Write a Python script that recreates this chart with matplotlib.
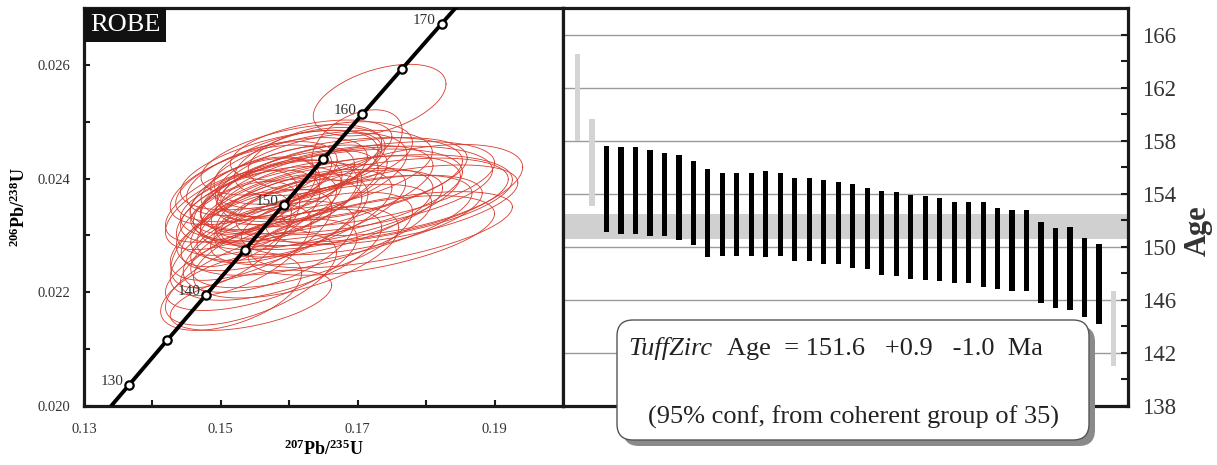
import numpy as np
import matplotlib
matplotlib.use('Agg')
import matplotlib.pyplot as plt
from matplotlib.patches import FancyBboxPatch, Rectangle
from matplotlib.transforms import IdentityTransform

plt.rcParams['font.family'] = ['Liberation Serif', 'DejaVu Serif']
plt.rcParams['mathtext.fontset'] = 'custom'
plt.rcParams['mathtext.rm'] = 'Liberation Serif'
plt.rcParams['mathtext.bf'] = 'Liberation Serif:bold'
plt.rcParams['mathtext.it'] = 'Liberation Serif:italic'

# ---- data ------------------------------------------------------------------

# concordia: decay constants (per Ma) and labelled age marks
L238 = 1.55125e-4
L235 = 9.8485e-4
CONC_AGES = [130, 135, 140, 145, 150, 155, 160, 165, 170]
CONC_LABELS = [130, 140, 150, 160, 170]

# error ellipses: 207Pb/235U, 206Pb/238U centres, half-widths, correlation
ELL_X = [0.1732, 0.1699, 0.1765, 0.1750, 0.1721, 0.1706, 0.1676, 0.1662,
         0.1632, 0.1618, 0.1544, 0.1515, 0.1559, 0.1588, 0.1588, 0.1603,
         0.1574, 0.1544, 0.1529, 0.1515, 0.1559, 0.1574, 0.1596, 0.1618,
         0.1632, 0.1647, 0.1662, 0.1676, 0.1691, 0.1647, 0.1603, 0.1574,
         0.1544, 0.1529, 0.1632, 0.1581, 0.1515, 0.1735, 0.1544,
         0.1600, 0.1620, 0.1580, 0.1560, 0.1640, 0.1660, 0.1700, 0.1540,
         0.1610, 0.1590, 0.1650, 0.1570, 0.1680, 0.1610, 0.1550, 0.1630,
         0.1720, 0.1595, 0.1525, 0.1660]
ELL_Y = [0.02538, 0.02459, 0.02380, 0.02354, 0.02362, 0.02336, 0.02327,
         0.02345, 0.02310, 0.02292, 0.02222, 0.02200, 0.02248, 0.02266,
         0.02415, 0.02433, 0.02398, 0.02389, 0.02362, 0.02345, 0.02354,
         0.02371, 0.02362, 0.02389, 0.02406, 0.02415, 0.02398, 0.02380,
         0.02362, 0.02371, 0.02336, 0.02318, 0.02301, 0.02274, 0.02450,
         0.02345, 0.02292, 0.02310, 0.02186,
         0.02380, 0.02350, 0.02360, 0.02400, 0.02380, 0.02360, 0.02390,
         0.02340, 0.02420, 0.02330, 0.02340, 0.02280, 0.02400, 0.02270,
         0.02370, 0.02430, 0.02300, 0.02395, 0.02320, 0.02440]
ELL_SX = [0.0097, 0.0066, 0.0176, 0.0184, 0.0199, 0.0176, 0.0191, 0.0162,
          0.0176, 0.0162, 0.0125, 0.0103, 0.0140, 0.0147, 0.0147, 0.0132,
          0.0140, 0.0118, 0.0110, 0.0096, 0.0118, 0.0103, 0.0110, 0.0125,
          0.0140, 0.0162, 0.0191, 0.0221, 0.0235, 0.0206, 0.0147, 0.0132,
          0.0118, 0.0103, 0.0118, 0.0088, 0.0088, 0.0191, 0.0118,
          0.0130, 0.0150, 0.0120, 0.0110, 0.0170, 0.0190, 0.0200, 0.0105,
          0.0120, 0.0125, 0.0160, 0.0125, 0.0180, 0.0150, 0.0095, 0.0110,
          0.0180, 0.0100, 0.0090, 0.0120]
ELL_SY = [0.00063, 0.00062, 0.00080, 0.00070, 0.00074, 0.00070, 0.00079,
          0.00070, 0.00080, 0.00084, 0.00080, 0.00067, 0.00080, 0.00080,
          0.00070, 0.00062, 0.00074, 0.00070, 0.00074, 0.00070, 0.00067,
          0.00062, 0.00067, 0.00070, 0.00074, 0.00070, 0.00074, 0.00077,
          0.00080, 0.00081, 0.00080, 0.00080, 0.00080, 0.00080, 0.00053,
          0.00062, 0.00084, 0.00067, 0.00053,
          0.00070, 0.00075, 0.00072, 0.00065, 0.00078, 0.00080, 0.00075,
          0.00075, 0.00065, 0.00078, 0.00078, 0.00080, 0.00072, 0.00080,
          0.00068, 0.00060, 0.00070, 0.00062, 0.00075, 0.00060]
ELL_RHO = [0.45, 0.40, 0.50, 0.55, 0.50, 0.55, 0.60, 0.55, 0.60, 0.60,
           0.60, 0.50, 0.60, 0.60, 0.55, 0.50, 0.55, 0.55, 0.60, 0.55,
           0.55, 0.55, 0.55, 0.55, 0.50, 0.45, 0.45, 0.45, 0.45, 0.50,
           0.60, 0.60, 0.60, 0.60, 0.45, 0.55, 0.60, 0.60, 0.50,
           0.55, 0.55, 0.50, 0.50, 0.55, 0.55, 0.50, 0.50, 0.45, 0.55,
           0.55, 0.55, 0.50, 0.55, 0.45, 0.45, 0.55, 0.50, 0.50, 0.40]

# age bars (Ma): coherent group, then rejected analyses
GOOD_TOP = [157.6, 157.55, 157.55, 157.3, 157.1, 156.95, 156.45, 155.9,
            155.55, 155.55, 155.55, 155.7, 155.55, 155.2, 155.2, 155.0,
            154.9, 154.7, 154.4, 154.2, 154.1, 153.9, 153.8, 153.7, 153.4,
            153.4, 153.4, 152.9, 152.8, 152.8, 151.9, 151.4, 151.5, 150.7,
            150.2]
GOOD_BOT = [151.1, 151.0, 151.0, 150.8, 150.8, 150.5, 150.1, 149.2, 149.3,
            149.3, 149.3, 149.2, 149.3, 148.9, 148.9, 148.7, 148.7, 148.4,
            148.3, 147.9, 147.8, 147.6, 147.5, 147.4, 147.3, 147.3, 147.0,
            146.8, 146.7, 146.7, 145.8, 145.4, 145.2, 144.7, 144.2]
GOOD_POS = list(range(3, 38))
REJ_POS = [1, 2, 38]
REJ_TOP = [164.5, 159.6, 146.7]
REJ_BOT = [158.0, 153.1, 141.0]

AGE = 151.6
AGE_PLUS = 0.9
AGE_MINUS = 1.0
N_GROUP = 35

# ---- figure ----------------------------------------------------------------

W, H = 1217, 465
fig = plt.figure(figsize=(W / 100, H / 100), dpi=100)


def fx(px):
    return px / W


def fy(py):
    return 1 - py / H


ax1 = fig.add_axes([fx(84), fy(406), (563 - 84) / W, 398 / H])
ax2 = fig.add_axes([fx(563), fy(406), (1128 - 563) / W, 398 / H])

spine_c = '#1a1a1a'
for ax in (ax1, ax2):
    for s in ax.spines.values():
        s.set_linewidth(2.3)
        s.set_color(spine_c)

# ---- concordia panel -------------------------------------------------------

tt = np.linspace(100, 200, 400)
ax1.plot(np.expm1(L235 * tt), np.expm1(L238 * tt), color='black', lw=2.8,
         zorder=3, solid_capstyle='butt')
ca = np.array(CONC_AGES, dtype=float)
ax1.plot(np.expm1(L235 * ca), np.expm1(L238 * ca), 'o', ms=6,
         mfc='white', mec='black', mew=1.6, zorder=4)
for a in CONC_LABELS:
    ax1.annotate(str(a), (np.expm1(L235 * a), np.expm1(L238 * a)),
                 xytext=(-4, 0), textcoords='offset points', ha='right',
                 va='baseline', fontsize=11, color='#333333', zorder=5)

th = np.linspace(0, 2 * np.pi, 200)
for cx, cy, sx, sy, r in zip(ELL_X, ELL_Y, ELL_SX, ELL_SY, ELL_RHO):
    ex = cx + sx * np.cos(th)
    ey = cy + sy * (r * np.cos(th) + np.sqrt(1 - r * r) * np.sin(th))
    ax1.plot(ex, ey, color='#d83a2c', lw=0.6, zorder=2)

ax1.set_xlim(0.13, 0.20)
ax1.set_ylim(0.020, 0.027)
ax1.set_xticks([0.13, 0.15, 0.17, 0.19])
ax1.set_xticklabels(['0.13', '0.15', '0.17', '0.19'])
ax1.set_xticks(np.arange(0.14, 0.20, 0.02), minor=True)
ax1.set_yticks([0.020, 0.022, 0.024, 0.026])
ax1.set_yticklabels(['0.020', '0.022', '0.024', '0.026'])
ax1.set_yticks([0.021, 0.023, 0.025], minor=True)
ax1.tick_params(which='both', direction='in', length=4, width=1.5,
                color=spine_c, labelsize=10.5, labelcolor='#333333')
ax1.tick_params(axis='x', which='both', pad=12)
ax1.tick_params(axis='y', which='both', pad=10)
ax1.set_xlabel(r'$^{\mathbf{207}}$Pb/$^{\mathbf{235}}$U', fontsize=13,
               fontweight='bold')
ax1.set_ylabel(r'$^{\mathbf{206}}$Pb/$^{\mathbf{238}}$U', fontsize=13,
               fontweight='bold')
ax1.xaxis.set_label_coords(0.5, -0.085)
ax1.yaxis.set_label_coords(-0.115, 0.5)

ax1.add_patch(Rectangle((0, 1 - 34 / 398), 82 / 479, 34 / 398,
                        transform=ax1.transAxes, facecolor='#111111',
                        edgecolor='none', zorder=6, clip_on=False))
ax1.text(41 / 479, 1 - 17 / 398, 'ROBE', transform=ax1.transAxes,
         color='white', fontsize=19, ha='center', va='center', zorder=7)

# ---- age bar panel ---------------------------------------------------------

ax2.set_xlim(0, 39)
ax2.set_ylim(138, 168)
major = np.arange(138, 167, 4)
for g in major[1:]:
    ax2.axhline(g, color='#9a9a9a', lw=1.0, zorder=0)
ax2.axhspan(AGE - AGE_MINUS, AGE + AGE_PLUS, color='#d0d0d0', lw=0,
            zorder=1)
gt = np.array(GOOD_TOP)
gb = np.array(GOOD_BOT)
ax2.bar(GOOD_POS, gt - gb, bottom=gb, width=0.36, color='black', zorder=2)
rt = np.array(REJ_TOP)
rb = np.array(REJ_BOT)
ax2.bar(REJ_POS, rt - rb, bottom=rb, width=0.36, color='#d4d4d4', zorder=2)

ax2.set_xticks([])
ax2.yaxis.tick_right()
ax2.set_yticks(major)
ax2.set_yticks(np.arange(140, 168, 4), minor=True)
ax2.tick_params(which='both', direction='in', length=5, width=1.5,
                color=spine_c, labelsize=16.5, labelcolor='#333333', pad=10)
fig.text(fx(1198), fy(231), 'Age', rotation=90, ha='center', va='center',
         fontsize=22, fontweight='bold', color='#333333')

# ---- result box ------------------------------------------------------------

bx0, by0, bx1, by1 = 617, 320, 1089, 440
shadow = FancyBboxPatch((bx0 + 6, H - by1 - 6), bx1 - bx0, by1 - by0,
                        boxstyle='round,pad=0,rounding_size=16',
                        transform=IdentityTransform(), facecolor='#8a8a8a',
                        edgecolor='none', zorder=10)
box = FancyBboxPatch((bx0, H - by1), bx1 - bx0, by1 - by0,
                     boxstyle='round,pad=0,rounding_size=16',
                     transform=IdentityTransform(), facecolor='white',
                     edgecolor='#555555', lw=1.0, zorder=11)
fig.patches.extend([shadow, box])
fig.text(fx(628), fy(349), 'TuffZirc', style='italic', fontsize=19,
         ha='left', va='center', color='#222222', zorder=12)
fig.text(fx(727), fy(349),
         f'Age  = {AGE}   +{AGE_PLUS}   -{AGE_MINUS}  Ma',
         fontsize=19, ha='left', va='center', color='#222222', zorder=12)
fig.text(fx(853), fy(417), f'(95% conf, from coherent group of {N_GROUP})',
         fontsize=19, ha='center', va='center', color='#222222', zorder=12)

fig.savefig('out.png', dpi=100, facecolor='white')
